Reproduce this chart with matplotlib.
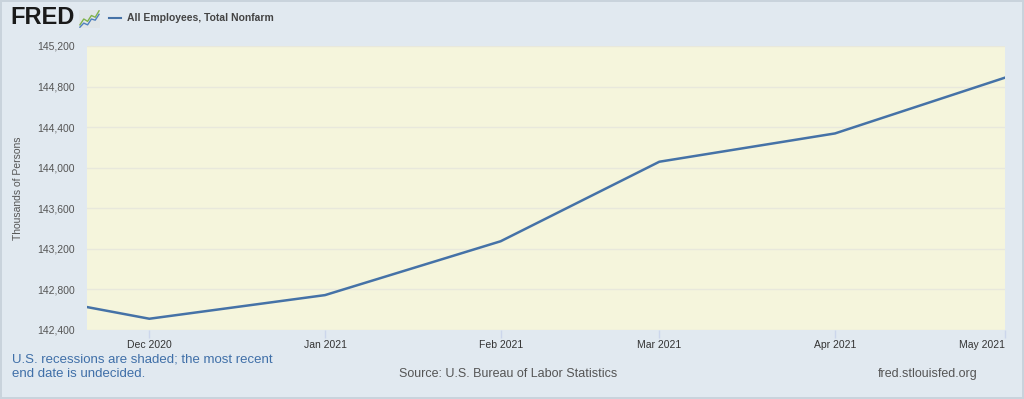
import datetime as dt
import matplotlib
matplotlib.use('Agg')
import matplotlib.pyplot as plt
import matplotlib.dates as mdates
from matplotlib.ticker import FuncFormatter, MultipleLocator

# monthly values, thousands of persons
months = [dt.date(2020, 11, 1), dt.date(2020, 12, 1), dt.date(2021, 1, 1),
          dt.date(2021, 2, 1), dt.date(2021, 3, 1), dt.date(2021, 4, 1),
          dt.date(2021, 5, 1)]
payems = [142825, 142511, 142744, 143275, 144059, 144338, 144888]
xtick_dates = months[1:]
xtick_labels = ['Dec 2020', 'Jan 2021', 'Feb 2021', 'Mar 2021', 'Apr 2021', 'May 2021']

plt.rcParams['font.family'] = ['Liberation Sans', 'DejaVu Sans']

bg = '#e1e9f0'
fig = plt.figure(figsize=(10.24, 3.99), dpi=100, facecolor=bg)
ax = fig.add_axes([87/1024, 69/399, 918/1024, 284/399])
ax.set_facecolor('#f5f5dc')

ax.plot(months, payems, color='#4572a7', lw=1.8, solid_joinstyle='round', zorder=3)

ax.set_xlim(dt.date(2020, 11, 20), dt.date(2021, 5, 1))
ax.set_ylim(142400, 145200)
ax.yaxis.set_major_locator(MultipleLocator(400))
ax.yaxis.set_major_formatter(FuncFormatter(lambda v, p: f'{v:,.0f}'))
ax.set_xticks([mdates.date2num(d) for d in xtick_dates])
ax.set_xticklabels(xtick_labels)
# last label sits flush with the right edge, like the original
ax.get_xticklabels()[-1].set_horizontalalignment('right')

ax.grid(axis='y', color='#e8e8dc', lw=1, zorder=1)
for s in ax.spines.values():
    s.set_visible(False)
ax.tick_params(axis='y', length=0, pad=8.5, labelsize=7.5, labelcolor='#555555')
ax.tick_params(axis='x', length=6, width=1, color='#ccd6eb', pad=1.5,
               labelsize=7.5, labelcolor='#333333')
ax.set_ylabel('Thousands of Persons', fontsize=7.5, color='#555555')
ax.yaxis.set_label_coords(-0.07, 0.5)

# header: FRED logo and legend
fig.text(10/1024, 1 - 18/399, 'FRED', fontsize=17, fontweight='bold', color='#1a1a1a',
         va='center', ha='left')
icon = fig.add_axes([79/1024, 1 - 28/399, 21/1024, 18/399])
icon.set_facecolor('#dfe5e8')
icon.plot([0, 1, 2, 3, 4, 5], [1, 2, 1.6, 2.6, 2.3, 3.4], color='#7fb24a', lw=1)
icon.plot([0, 1, 2, 3, 4, 5], [0.6, 1.3, 1.0, 2.0, 1.8, 2.8], color='#4f81bd', lw=1)
icon.set_xticks([]); icon.set_yticks([])
for s in icon.spines.values():
    s.set_visible(False)
fig.add_artist(plt.Line2D([109/1024, 121/1024], [1 - 18/399, 1 - 18/399],
                          color='#4572a7', lw=1.5))
fig.text(127/1024, 1 - 18/399, 'All Employees, Total Nonfarm', fontsize=7.5,
         fontweight='bold', color='#444444', va='center', ha='left')

# footer
fig.text(12/1024, 1 - 366.5/399, 'U.S. recessions are shaded; the most recent\nend date is undecided.',
         fontsize=9.5, color='#3f6fa8', va='center', ha='left', linespacing=1.25)
fig.text(399/1024, 1 - 374/399, 'Source: U.S. Bureau of Labor Statistics', fontsize=9,
         color='#555555', va='center', ha='left')
fig.text(978/1024, 1 - 374/399, 'fred.stlouisfed.org', fontsize=9,
         color='#555555', va='center', ha='right')

fig.patch.set_edgecolor('#c9d3dc')
fig.patch.set_linewidth(1.5)
fig.savefig('out.png', dpi=100, facecolor=bg, edgecolor='#c9d3dc')
